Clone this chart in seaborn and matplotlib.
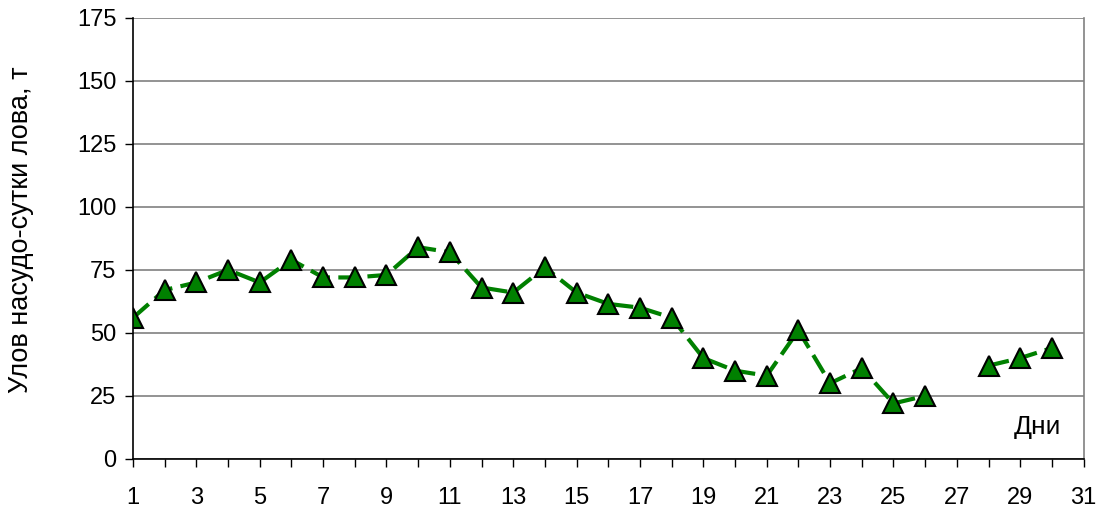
import numpy as np
import pandas as pd
import seaborn as sns
import matplotlib.pyplot as plt
from matplotlib.ticker import MultipleLocator

days = list(range(1, 31))
catch = [56, 67, 70, 75, 70, 79, 72, 72, 73, 84,
         82, 68, 66, 76, 66, 61.5, 60, 56, 40, 35,
         33, 51, 30, 36, 22, 25, np.nan, 37, 40, 44]
# day 27 has no catch, the line breaks there
segment = [0] * 26 + [1] * 4
x_ticks = list(range(1, 32, 2))

df = pd.DataFrame({"day": days, "catch": catch, "segment": segment}).dropna()

sns.set_style("white")
plt.rcParams['font.family'] = ['Liberation Sans', 'DejaVu Sans']
plt.rcParams['text.color'] = 'black'
plt.rcParams['axes.labelcolor'] = 'black'
plt.rcParams['xtick.color'] = 'black'
plt.rcParams['ytick.color'] = 'black'

fig = plt.figure(figsize=(10.99, 5.11), dpi=100)
ax = fig.add_axes([0.121, 0.102, 0.865, 0.863])

sns.lineplot(data=df, x="day", y="catch", units="segment", estimator=None,
             color="#008000", linewidth=3, dashes=False, ax=ax,
             marker="^", markersize=15, markerfacecolor="#008000",
             markeredgecolor="black", markeredgewidth=1.5)
for line in ax.lines:
    line.set_linestyle((0, (5, 2)))

ax.set_xlim(1, 31)
ax.set_ylim(0, 175)
ax.set_xticks(x_ticks)
ax.xaxis.set_minor_locator(MultipleLocator(1))
ax.yaxis.set_major_locator(MultipleLocator(25))
ax.grid(axis="y", color="#808080", linewidth=1.2)
ax.set_axisbelow(True)

ax.tick_params(axis="both", which="both", direction="out", color="black",
               labelcolor="black", bottom=True, left=True, labelsize=17,
               length=6, width=1)
ax.tick_params(axis="x", which="major", pad=14)
ax.tick_params(axis="y", pad=6)

for side in ["left", "bottom"]:
    ax.spines[side].set_color("black")
    ax.spines[side].set_linewidth(1.2)
ax.spines["right"].set_color("#808080")
ax.spines["right"].set_linewidth(1.2)
ax.spines["top"].set_visible(False)

ax.set_xlabel("")
ax.set_ylabel("Улов насудо-сутки лова, т", fontsize=19.5, color="black")
ax.yaxis.set_label_coords(-0.104, 0.52)
ax.text(29.55, 12.7, "Дни", fontsize=19, ha="center", va="center", color="black")

fig.savefig("out.png", dpi=100)
